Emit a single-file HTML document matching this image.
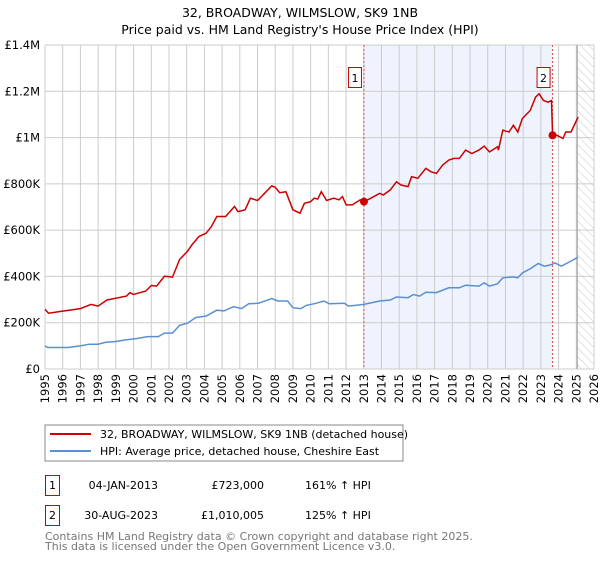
<!DOCTYPE html>
<html><head><meta charset="utf-8"><style>
body{margin:0;background:#fff;font-family:"DejaVu Sans","Liberation Sans",sans-serif;}
svg text{font-family:"DejaVu Sans","Liberation Sans",sans-serif;}
</style></head><body>
<svg id="c" width="600" height="560" xmlns="http://www.w3.org/2000/svg">
<defs><pattern id="hatch" width="6" height="6" patternUnits="userSpaceOnUse" patternTransform="rotate(-45)"><line x1="0" y1="0" x2="0" y2="6" stroke="#bbb" stroke-width="0.8"/></pattern></defs>
<text x="300" y="17" text-anchor="middle" font-size="12.5">32, BROADWAY, WILMSLOW, SK9 1NB</text>
<text x="300" y="34" text-anchor="middle" font-size="12.5">Price paid vs. HM Land Registry's House Price Index (HPI)</text>
<g id="plot"></g>
<rect x="45" y="425" width="358" height="36" fill="#fff" stroke="#888"/>
<line x1="50" y1="434" x2="91" y2="434" stroke="#cc0000" stroke-width="2"/>
<text x="100" y="438" font-size="11">32, BROADWAY, WILMSLOW, SK9 1NB (detached house)</text>
<line x1="50" y1="451" x2="91" y2="451" stroke="#5b8fd4" stroke-width="2"/>
<text x="100" y="455" font-size="11">HPI: Average price, detached house, Cheshire East</text>
<g>
<rect x="45.5" y="475.5" width="14" height="20" fill="#fff" stroke="#cc0000"/>
<text x="52.5" y="489" text-anchor="middle" font-size="11">1</text>
<text x="158" y="489" text-anchor="end" font-size="11">04-JAN-2013</text>
<text x="264" y="489" text-anchor="end" font-size="11">£723,000</text>
<text x="305" y="489" font-size="11">161% ↑ HPI</text>
</g>
<g>
<rect x="45.5" y="505.5" width="14" height="20" fill="#fff" stroke="#cc0000"/>
<text x="52.5" y="519" text-anchor="middle" font-size="11">2</text>
<text x="158" y="519" text-anchor="end" font-size="11">30-AUG-2023</text>
<text x="264" y="519" text-anchor="end" font-size="11">£1,010,005</text>
<text x="305" y="519" font-size="11">125% ↑ HPI</text>
</g>
<text x="45" y="540" font-size="11" fill="#777">Contains HM Land Registry data © Crown copyright and database right 2025.</text>
<text x="45" y="550" font-size="11" fill="#777">This data is licensed under the Open Government Licence v3.0.</text>
</svg>
<script>
const redYears=[1995,1995.2,1996,1997,1997.6,1998,1998.5,1999.6,1999.8,2000,2000.7,2001,2001.3,2001.75,2002.2,2002.6,2003.05,2003.3,2003.7,2004.1,2004.4,2004.7,2005.2,2005.7,2005.9,2006.3,2006.6,2007,2007.4,2007.8,2008,2008.25,2008.6,2009,2009.4,2009.65,2010,2010.2,2010.4,2010.6,2010.9,2011.3,2011.6,2011.8,2012,2012.35,2012.8,2013.01,2013.4,2013.9,2014.1,2014.5,2014.85,2015.1,2015.5,2015.7,2016.05,2016.5,2016.8,2017.1,2017.45,2017.8,2018.1,2018.4,2018.75,2019.1,2019.5,2019.8,2020.1,2020.55,2020.6,2020.85,2021.2,2021.45,2021.7,2021.95,2022.4,2022.7,2022.9,2023.15,2023.4,2023.6,2023.66,2023.9,2024.25,2024.4,2024.7,2025.1];
const redValues=[258,241,250,261,279,272,298,315,330,322,337,361,358,401,397,473,509,537,573,587,616,659,659,702,680,688,738,728,759,791,785,762,766,688,673,716,723,738,734,766,728,738,731,745,709,709,731,723,738,759,752,774,809,795,788,831,824,867,852,845,881,903,910,910,946,931,946,963,938,960,946,1032,1024,1053,1024,1082,1117,1175,1189,1160,1153,1160,1010,1010,996,1024,1024,1089];
const hpiYears=[1995,1995.15,1996.3,1997,1997.5,1998,1998.4,1999,1999.6,2000.2,2000.8,2001.4,2001.75,2002.2,2002.6,2003.05,2003.5,2004.1,2004.7,2005.1,2005.65,2006.1,2006.5,2007.05,2007.8,2008.15,2008.7,2009,2009.45,2009.75,2010.3,2010.75,2011.05,2011.9,2012.15,2013,2013.9,2014.5,2014.85,2015.5,2015.8,2016.15,2016.5,2017.1,2017.8,2018.4,2018.75,2019.5,2019.8,2020.1,2020.55,2020.85,2021.45,2021.7,2021.95,2022.4,2022.85,2023.2,2023.6,2023.8,2024.15,2024.5,2025.1];
const hpiValues=[100,93,93,100,107,107,115,119,126,132,140,140,155,155,189,198,222,229,254,251,269,261,282,284,304,294,294,265,261,275,284,294,282,284,272,279,294,298,311,308,322,315,332,330,351,351,362,358,372,358,368,394,398,394,415,433,456,444,451,458,444,458,483];
const saleYears=[2013.01,2023.66];
const saleValues=[723,1010.005];
const saleLabels=["1","2"];
const yTicks=[0,200,400,600,800,1000,1200,1400];
const yTickLabels=["£0","£200K","£400K","£600K","£800K","£1M","£1.2M","£1.4M"];
const xTicks=[1995,1996,1997,1998,1999,2000,2001,2002,2003,2004,2005,2006,2007,2008,2009,2010,2011,2012,2013,2014,2015,2016,2017,2018,2019,2020,2021,2022,2023,2024,2025,2026];
const dataEnd=2025.05;

const L=45,R=594,T=45,B=369;
const X=y=>L+(y-1995)/(2026-1995)*(R-L);
const Y=v=>B-v/1400*(B-T);
const NS="http://www.w3.org/2000/svg";
const g=document.getElementById('plot');
function mk(t,a){const e=document.createElementNS(NS,t);for(const k in a)e.setAttribute(k,a[k]);g.appendChild(e);return e;}
let e;
e=mk('rect',{x:X(saleYears[0]),y:T,width:X(saleYears[1])-X(saleYears[0]),height:B-T,fill:'#eef3fd'});


e=mk('rect',{x:X(dataEnd),y:T,width:R-X(dataEnd),height:B-T,fill:'url(#hatch)'});


xTicks.forEach(t=>{e=mk('line',{x1:X(t),x2:X(t),y1:T,y2:B,stroke:'#cccccc','stroke-width':1});


e=mk('text',{x:0,y:0,transform:`translate(${X(t)+4},${B+5}) rotate(-90)`,'text-anchor':'end','font-size':'11.5'});e.textContent=t;

});
yTicks.forEach((t,i)=>{e=mk('line',{x1:L,x2:R,y1:Y(t),y2:Y(t),stroke:'#cccccc','stroke-width':1});


e=mk('text',{x:L-5,y:Y(t)+4,'text-anchor':'end','font-size':'11.5'});e.textContent=yTickLabels[i];

});
e=mk('line',{x1:X(dataEnd),x2:X(dataEnd),y1:T,y2:B,stroke:'#999','stroke-width':1});


saleYears.forEach((s,i)=>{e=mk('line',{x1:X(s),x2:X(s),y1:T,y2:B,stroke:'#e05050','stroke-width':1,'stroke-dasharray':'2,2'});

});
const path=(xs,vs)=>xs.map((x,i)=>(i?'L':'M')+X(x).toFixed(1)+','+Y(vs[i]).toFixed(1)).join('');
e=mk('path',{d:path(hpiYears,hpiValues),fill:'none',stroke:'#5b8fd4','stroke-width':1.5});


e=mk('path',{d:path(redYears,redValues),fill:'none',stroke:'#cc0000','stroke-width':1.5});


saleYears.forEach((s,i)=>{e=mk('circle',{cx:X(s),cy:Y(saleValues[i]),r:4,fill:'#cc0000'});


const bx=X(s)-16,by=T+22;
e=mk('rect',{x:bx+0.5,y:by+0.5,width:13,height:20,fill:'#fff',stroke:'#cc0000'});


e=mk('text',{x:bx+7,y:by+15,'text-anchor':'middle','font-size':'11'});e.textContent=saleLabels[i];

});
</script>
</body></html>
